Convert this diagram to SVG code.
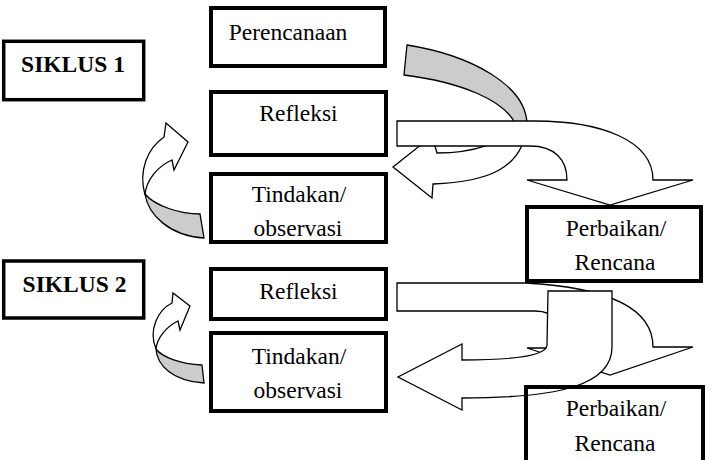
<svg xmlns="http://www.w3.org/2000/svg" width="714" height="460" viewBox="0 0 714 460">
<style>
.box{fill:none;stroke:#000;stroke-width:4}
.sk{fill:none;stroke:#000;stroke-width:3.5}
.t{font-family:"Liberation Serif","Times New Roman",serif;font-size:23.5px;fill:#000;text-anchor:middle}
.b{font-weight:bold}
.w{fill:#fff;stroke:#000;stroke-width:1.3;stroke-linejoin:miter}
.g{fill:#cccccc;stroke:#000;stroke-width:1.3}
</style>
<rect width="714" height="460" fill="#fff"/>
<g id="connectors">
  <!-- cycle 1: curved arrow from Perencanaan back to Tindakan -->
  <path class="g" d="M407,45 C470,55 527,85 527,125 L516,125 C505,100 460,82 404,75 Z"/>
  <path class="w" d="M527,122 C525,170 485,182 433,184 L432,198 L393,167 L432,136 L437,153 C470,153 505,145 515,122 Z"/>
  <!-- cycle 1: Refleksi to Perbaikan -->
  <path class="w" d="M397,121 L535,121 C600,121 653,140 653,180 L693,180 L610,205 L527,180 L567,180 C567,160 555,146 530,146 L397,146 Z"/>
  <!-- cycle 1 small arrow -->
  <path class="g" d="M200,214 C180,214 155,206 145,194 C148,215 170,236 204,238 Z"/>
  <path class="w" d="M145,195 C138,170 148,148 164,137 L166,123 L188,142 L174,170 L172,160 C158,166 146,180 145,195 Z"/>
  <!-- cycle 2 small arrow -->
  <path class="g" d="M202,365 C180,364 162,357 156,349 C157,365 172,381 204,383 Z"/>
  <path class="w" d="M156,349 C148,330 158,310 172,303 L173,293 L190,306 L180,330 L178,321 C166,327 157,338 156,349 Z"/>
  <!-- cycle 2: Refleksi to Perbaikan -->
  <path class="w" d="M397,283 L525,283 C600,287 653,305 653,347 L693,347 L610,375 L527,348 L567,348 C567,325 555,311 535,311 L397,311 Z"/>
  <!-- cycle 2: U-turn back to Tindakan -->
  <path class="w" d="M548,291 L612,291 L612,347 C612,385 560,398 462,398 L462,410 L398,377 L462,344 L462,360 C510,360 547,356 547,345 Z"/>
</g>
<g id="siklus1"><rect class="sk" x="3.7" y="41.3" width="140" height="58.4"/><text class="t b" x="73" y="72">SIKLUS 1</text></g>
<g id="perencanaan"><rect class="box" x="211" y="8" width="174" height="58"/><text class="t" x="288" y="40">Perencanaan</text></g>
<g id="refleksi1"><rect class="box" x="211" y="92" width="175" height="63"/><text class="t" x="298.5" y="121">Refleksi</text></g>
<g id="tindakan1"><rect class="box" x="211" y="174" width="175" height="68"/><text class="t" x="299" y="202">Tindakan/</text><text class="t" x="298" y="236">observasi</text></g>
<g id="perbaikan1"><rect class="box" x="527" y="207" width="174" height="74"/><text class="t" x="616" y="236">Perbaikan/</text><text class="t" x="615" y="270">Rencana</text></g>
<g id="siklus2"><rect class="sk" x="3.7" y="261" width="140" height="57"/><text class="t b" x="74.5" y="292">SIKLUS 2</text></g>
<g id="refleksi2"><rect class="box" x="211" y="269" width="175" height="50"/><text class="t" x="298.5" y="299">Refleksi</text></g>
<g id="tindakan2"><rect class="box" x="211" y="333" width="175" height="78"/><text class="t" x="299" y="364">Tindakan/</text><text class="t" x="298" y="398">observasi</text></g>
<g id="perbaikan2"><rect class="box" x="526" y="387" width="177" height="80"/><text class="t" x="616" y="416">Perbaikan/</text><text class="t" x="615" y="451">Rencana</text></g>
</svg>
